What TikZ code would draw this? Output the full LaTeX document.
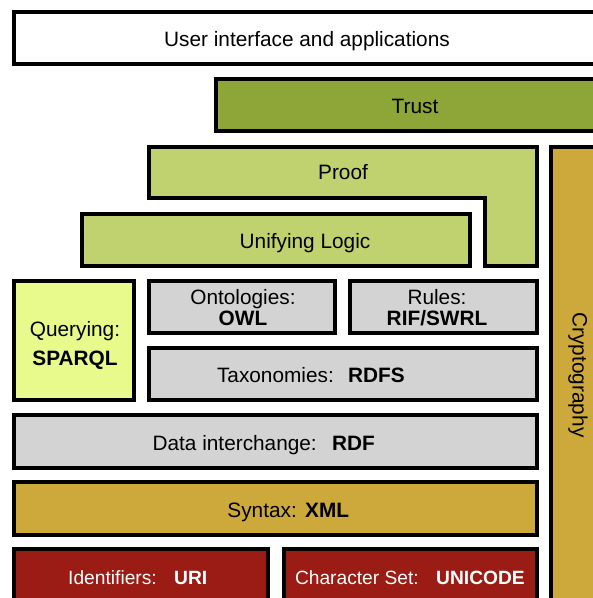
\documentclass[tikz,border=0pt]{standalone}
\usepackage{fontspec}
\setmainfont{Liberation Sans}
\usepackage{xcolor}
\usepackage{tikz}
\definecolor{trustgreen}{HTML}{8EA637}
\definecolor{logicgreen}{HTML}{C0D170}
\definecolor{querylime}{HTML}{E8FA8C}
\definecolor{layergray}{HTML}{D3D3D3}
\definecolor{syntaxgold}{HTML}{CCA93A}
\definecolor{basered}{HTML}{9B1C14}

\begin{document}
\begin{tikzpicture}[x=1pt,y=-1pt,
  layer/.style={draw=black,line width=4pt},
  lbl/.style={font=\fontsize{20.8}{25}\selectfont,inner sep=0pt,anchor=base},
  basetext/.style={lbl,font=\fontsize{19.2}{23}\selectfont,white}]
\useasboundingbox (0,0) rectangle (593,598);
\clip (0,0) rectangle (593,598);
\fill[white] (0,0) rectangle (593,598);
% layers
\draw[layer,fill=white] (14,12) rectangle (620,64);
\draw[layer,fill=trustgreen] (216,79) rectangle (620,131);
\draw[layer,fill=logicgreen] (149,147) -- (537,147) -- (537,266) -- (485,266) -- (485,198) -- (149,198) -- cycle;
\draw[layer,fill=logicgreen] (82,214) rectangle (470,266);
\draw[layer,fill=querylime] (14,281) rectangle (134,400);
\draw[layer,fill=layergray] (149,281) rectangle (335,333);
\draw[layer,fill=layergray] (350,281) rectangle (537,333);
\draw[layer,fill=layergray] (149,348) rectangle (537,400);
\draw[layer,fill=layergray] (14,415) rectangle (537,468);
\draw[layer,fill=syntaxgold] (14,482) rectangle (537,535);
\draw[layer,fill=basered] (14,549) rectangle (268,620);
\draw[layer,fill=basered] (284,549) rectangle (537,620);
\draw[layer,fill=syntaxgold] (551,147) rectangle (620,620);
% labels
\node[lbl] (ui) at (307,46) {User interface and applications};
\node[lbl] (trust) at (415,113) {Trust};
\node[lbl] (proof) at (343,179) {Proof};
\node[lbl] (logic) at (305,248) {Unifying Logic};
\node[lbl] (query) at (75,336) {Querying:};
\node[lbl] (sparql) at (75,365) {\bfseries SPARQL};
\node[lbl] (onto) at (243,304) {Ontologies:};
\node[lbl] (owl) at (243,325) {\bfseries OWL};
\node[lbl] (rules) at (437,304) {Rules:};
\node[lbl] (rif) at (437,325) {\bfseries RIF/SWRL};
\node[lbl,anchor=base east] (taxo) at (334,382) {Taxonomies:};
\node[lbl,anchor=base west] (rdfs) at (348,382) {\bfseries RDFS};
\node[lbl,anchor=base east] (data) at (317,450) {Data interchange:};
\node[lbl,anchor=base west] (rdf) at (332,450) {\bfseries RDF};
\node[lbl,anchor=base east] (syntax) at (297,517) {Syntax:};
\node[lbl,anchor=base west] (xml) at (305,517) {\bfseries XML};
\node[basetext,anchor=base east] (ident) at (157,584) {Identifiers:};
\node[basetext,anchor=base west] (uri) at (174,584) {\bfseries URI};
\node[basetext,anchor=base east] (charset) at (419,584) {Character Set:};
\node[basetext,anchor=base west] (unicode) at (436,584) {\bfseries UNICODE};
\node[lbl,anchor=center,rotate=-90] (crypto) at (578,375) {Cryptography};
\end{tikzpicture}
\end{document}
